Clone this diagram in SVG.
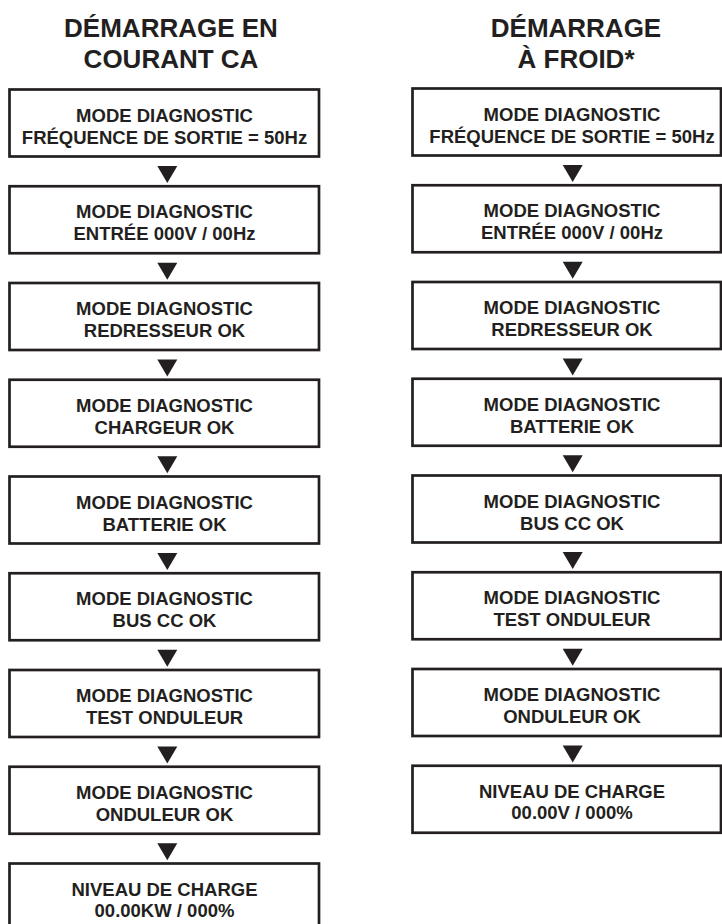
<svg xmlns="http://www.w3.org/2000/svg" width="722" height="924" viewBox="0 0 722 924">
<style>
.title{font-family:"Liberation Sans",Arial,sans-serif;font-weight:bold;font-size:26px;fill:#231f20;text-anchor:middle}
.box{fill:#fff;stroke:#231f20;stroke-width:2.7}
.t{font-family:"Liberation Sans",Arial,sans-serif;font-weight:bold;font-size:18.5px;fill:#231f20;text-anchor:middle}
.arr{fill:#231f20}
</style>
<rect width="722" height="924" fill="#fff"/>
<g id="title-left"><text class="title" x="171" y="37">DÉMARRAGE EN</text><text class="title" x="171" y="68">COURANT CA</text></g>
<g id="title-right"><text class="title" x="576" y="37">DÉMARRAGE</text><text class="title" x="576" y="68">À FROID*</text></g>

<g id="L1"><rect class="box" x="9.5" y="89.5" width="309.5" height="67"/><text class="t" x="164.5" y="121.5">MODE DIAGNOSTIC</text><text class="t" x="164.5" y="143.5">FRÉQUENCE DE SORTIE = 50Hz</text></g>
<g id="L2"><rect class="box" x="9.5" y="186.25" width="309.5" height="67"/><text class="t" x="164.5" y="218.25">MODE DIAGNOSTIC</text><text class="t" x="164.5" y="240.25">ENTRÉE 000V / 00Hz</text></g>
<g id="L3"><rect class="box" x="9.5" y="283" width="309.5" height="67"/><text class="t" x="164.5" y="315">MODE DIAGNOSTIC</text><text class="t" x="164.5" y="337">REDRESSEUR OK</text></g>
<g id="L4"><rect class="box" x="9.5" y="379.75" width="309.5" height="67"/><text class="t" x="164.5" y="411.75">MODE DIAGNOSTIC</text><text class="t" x="164.5" y="433.75">CHARGEUR OK</text></g>
<g id="L5"><rect class="box" x="9.5" y="476.5" width="309.5" height="67"/><text class="t" x="164.5" y="508.5">MODE DIAGNOSTIC</text><text class="t" x="164.5" y="530.5">BATTERIE OK</text></g>
<g id="L6"><rect class="box" x="9.5" y="573.25" width="309.5" height="67"/><text class="t" x="164.5" y="605.25">MODE DIAGNOSTIC</text><text class="t" x="164.5" y="627.25">BUS CC OK</text></g>
<g id="L7"><rect class="box" x="9.5" y="670" width="309.5" height="67"/><text class="t" x="164.5" y="702">MODE DIAGNOSTIC</text><text class="t" x="164.5" y="724">TEST ONDULEUR</text></g>
<g id="L8"><rect class="box" x="9.5" y="766.75" width="309.5" height="67"/><text class="t" x="164.5" y="798.75">MODE DIAGNOSTIC</text><text class="t" x="164.5" y="820.75">ONDULEUR OK</text></g>
<g id="L9"><rect class="box" x="9.5" y="863.5" width="309.5" height="67"/><text class="t" x="164.5" y="895.5">NIVEAU DE CHARGE</text><text class="t" x="164.5" y="916.5">00.00KW / 000%</text></g>

<g id="R1"><rect class="box" x="412.5" y="88.5" width="308.5" height="67"/><text class="t" x="572" y="120.5">MODE DIAGNOSTIC</text><text class="t" x="572" y="142.5">FRÉQUENCE DE SORTIE = 50Hz</text></g>
<g id="R2"><rect class="box" x="412.5" y="185.25" width="308.5" height="67"/><text class="t" x="572" y="217.25">MODE DIAGNOSTIC</text><text class="t" x="572" y="239.25">ENTRÉE 000V / 00Hz</text></g>
<g id="R3"><rect class="box" x="412.5" y="282" width="308.5" height="67"/><text class="t" x="572" y="314">MODE DIAGNOSTIC</text><text class="t" x="572" y="336">REDRESSEUR OK</text></g>
<g id="R4"><rect class="box" x="412.5" y="378.75" width="308.5" height="67"/><text class="t" x="572" y="410.75">MODE DIAGNOSTIC</text><text class="t" x="572" y="432.75">BATTERIE OK</text></g>
<g id="R5"><rect class="box" x="412.5" y="475.5" width="308.5" height="67"/><text class="t" x="572" y="507.5">MODE DIAGNOSTIC</text><text class="t" x="572" y="529.5">BUS CC OK</text></g>
<g id="R6"><rect class="box" x="412.5" y="572.25" width="308.5" height="67"/><text class="t" x="572" y="604.25">MODE DIAGNOSTIC</text><text class="t" x="572" y="626.25">TEST ONDULEUR</text></g>
<g id="R7"><rect class="box" x="412.5" y="669" width="308.5" height="67"/><text class="t" x="572" y="701">MODE DIAGNOSTIC</text><text class="t" x="572" y="723">ONDULEUR OK</text></g>
<g id="R8"><rect class="box" x="412.5" y="765.75" width="308.5" height="67"/><text class="t" x="572" y="797.75">NIVEAU DE CHARGE</text><text class="t" x="572" y="818.75">00.00V / 000%</text></g>

<g id="connectors">
<polygon class="arr" points="157.3,166 177.3,166 167.3,183"/>
<polygon class="arr" points="157.3,262.75 177.3,262.75 167.3,279.75"/>
<polygon class="arr" points="157.3,359.5 177.3,359.5 167.3,376.5"/>
<polygon class="arr" points="157.3,456.25 177.3,456.25 167.3,473.25"/>
<polygon class="arr" points="157.3,553 177.3,553 167.3,570"/>
<polygon class="arr" points="157.3,649.75 177.3,649.75 167.3,666.75"/>
<polygon class="arr" points="157.3,746.5 177.3,746.5 167.3,763.5"/>
<polygon class="arr" points="157.3,843.25 177.3,843.25 167.3,860.25"/>
<polygon class="arr" points="562.7,165 582.7,165 572.7,182"/>
<polygon class="arr" points="562.7,261.75 582.7,261.75 572.7,278.75"/>
<polygon class="arr" points="562.7,358.5 582.7,358.5 572.7,375.5"/>
<polygon class="arr" points="562.7,455.25 582.7,455.25 572.7,472.25"/>
<polygon class="arr" points="562.7,552 582.7,552 572.7,569"/>
<polygon class="arr" points="562.7,648.75 582.7,648.75 572.7,665.75"/>
<polygon class="arr" points="562.7,745.5 582.7,745.5 572.7,762.5"/>
</g>
</svg>
